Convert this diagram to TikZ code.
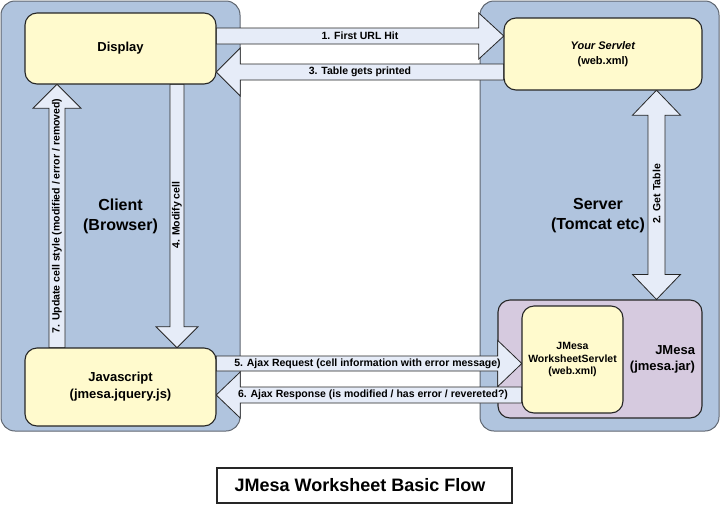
\documentclass[tikz,border=0pt]{standalone}
\usepackage{fontspec}
\setmainfont{Liberation Sans}
\usetikzlibrary{calc}
\definecolor{zone}{HTML}{B0C4DE}
\definecolor{zoneline}{HTML}{5F6670}
\definecolor{note}{HTML}{FFFACD}
\definecolor{lib}{HTML}{D6CADF}
\definecolor{arrfill}{HTML}{E6ECF8}
\tikzset{
  zonebox/.style={draw=zoneline, fill=zone, line width=1pt, rounded corners=14pt, inner sep=0pt,
    align=center, font=\fontsize{16}{20}\selectfont\bfseries},
  innerbox/.style={draw=black!85, fill=note, line width=1.1pt, rounded corners=12pt, inner sep=0pt, align=center},
  blockarr/.style={draw=black!85, fill=arrfill, line width=0.8pt, line join=miter},
  arrlabel/.style={font=\fontsize{10.5}{12}\selectfont\bfseries, inner sep=0pt},
}
% horizontal block arrow: #1 tail anchor, #2 tip anchor, #3 y, #4 shaft half, #5 head half, #6 head length
\newcommand\hblock[6]{%
  \draw[blockarr] let \p1=(#1), \p2=(#2), \n2={\x2-#6*sign(\x2-\x1)} in
    (\x1,{-(#3-#4)*1pt}) -- ({\n2*1pt},{-(#3-#4)*1pt}) -- ({\n2*1pt},{-(#3-#5)*1pt})
    -- (\x2,{-#3*1pt}) -- ({\n2*1pt},{-(#3+#5)*1pt}) -- ({\n2*1pt},{-(#3+#4)*1pt})
    -- (\x1,{-(#3+#4)*1pt}) -- cycle;}
% vertical block arrow: #1 tail anchor, #2 tip anchor, #3 x, #4 shaft half, #5 head half, #6 head length
\newcommand\vblock[6]{%
  \draw[blockarr] let \p1=(#1), \p2=(#2), \n2={\y2-#6*sign(\y2-\y1)} in
    ({(#3-#4)*1pt},\y1) -- ({(#3-#4)*1pt},{\n2*1pt}) -- ({(#3-#5)*1pt},{\n2*1pt})
    -- ({#3*1pt},\y2) -- ({(#3+#5)*1pt},{\n2*1pt}) -- ({(#3+#4)*1pt},{\n2*1pt})
    -- ({(#3+#4)*1pt},\y1) -- cycle;}
% double vertical block arrow: #1 top anchor, #2 bottom anchor, #3 x, #4 shaft half, #5 head half, #6 head length
\newcommand\dblock[6]{%
  \draw[blockarr] let \p1=(#1), \p2=(#2), \n1={\y1-#6}, \n2={\y2+#6} in
    ({#3*1pt},\y1) -- ({(#3+#5)*1pt},{\n1*1pt}) -- ({(#3+#4)*1pt},{\n1*1pt})
    -- ({(#3+#4)*1pt},{\n2*1pt}) -- ({(#3+#5)*1pt},{\n2*1pt}) -- ({#3*1pt},\y2)
    -- ({(#3-#5)*1pt},{\n2*1pt}) -- ({(#3-#4)*1pt},{\n2*1pt}) -- ({(#3-#4)*1pt},{\n1*1pt})
    -- ({(#3-#5)*1pt},{\n1*1pt}) -- cycle;}
\begin{document}
\begin{tikzpicture}[x=1pt,y=-1pt]
\useasboundingbox[fill=white] (0,0) rectangle (720,504);
% zones
\node[zonebox, minimum width=239pt, minimum height=430pt] (client) at (120.5,216) {Client\\(Browser)};
\node[zonebox, minimum width=239pt, minimum height=430pt] (server) at (599.5,216) {\hspace*{-3pt}Server\\\hspace*{-3pt}(Tomcat etc)};
\node[innerbox, fill=lib, minimum width=204pt, minimum height=118pt, text width=190pt, align=right,
  font=\fontsize{13}{16}\selectfont\bfseries] (jm) at (600,359) {JMesa\\(jmesa.jar)};
% coordinates of inner boxes (drawn later) for arrows
\path (120.5,48.5) coordinate (dispc);
\node[minimum width=191pt, minimum height=71pt, inner sep=0pt] (disp) at (120.5,48.5) {};
\node[minimum width=198pt, minimum height=72pt, inner sep=0pt] (ys) at (603,54) {};
\node[minimum width=191pt, minimum height=78pt, inner sep=0pt] (js) at (120.5,387) {};
\node[minimum width=101pt, minimum height=107pt, inner sep=0pt] (ws) at (572.5,359.5) {};
% arrows
\hblock{disp.east}{ys.west}{36}{8}{23}{25}
\hblock{ys.west}{disp.east}{72}{8}{24}{24}
\vblock{disp.south}{js.north}{177}{7}{21}{21}
\vblock{js.north}{disp.south}{57}{8}{24}{24}
\dblock{ys.south}{jm.north}{656.5}{8.5}{24}{25}
\hblock{js.east}{ws.west}{363.5}{7.5}{23}{24}
\hblock{ws.west}{js.east}{395}{8}{23}{24}
% inner boxes
\node[innerbox, minimum width=191pt, minimum height=71pt, font=\fontsize{13}{15}\selectfont\bfseries] at (disp) {Display};
\node[innerbox, minimum width=198pt, minimum height=72pt, font=\fontsize{11}{15}\selectfont\bfseries] at (ys) {\textit{Your Servlet}\\(web.xml)};
\node[innerbox, minimum width=191pt, minimum height=78pt, font=\fontsize{13}{17}\selectfont\bfseries] at (js) {Javascript\\(jmesa.jquery.js)};
\node[innerbox, minimum width=101pt, minimum height=107pt, font=\fontsize{10.5}{12.3}\selectfont\bfseries] at (ws) {JMesa\\WorksheetServlet\\(web.xml)};
% labels
\node[arrlabel] (l1) at (360,36) {1. First URL Hit};
\node[arrlabel] (l3) at (360,72) {3. Table gets printed};
\node[arrlabel, rotate=90] (l4) at (177,215) {4. Modify cell};
\node[arrlabel, rotate=90] (l7) at (57,216) {7. Update cell style (modified / error / removed)};
\node[arrlabel, rotate=90] (l2) at (656.5,194) {2. Get Table};
\node[arrlabel] (l5) at (367.5,363.5) {5. Ajax Request (cell information with error message)};
\node[arrlabel] (l6) at (373,395) {6. Ajax Response (is modified / has error / revereted?)};
% title
\node[draw=black!85, fill=white, line width=1.1pt, minimum width=295pt, minimum height=35pt, inner sep=0pt,
  font=\fontsize{18}{20}\selectfont\bfseries] (title) at (364.5,485.5) {JMesa Worksheet Basic Flow\hspace*{9pt}};
\end{tikzpicture}
\end{document}
